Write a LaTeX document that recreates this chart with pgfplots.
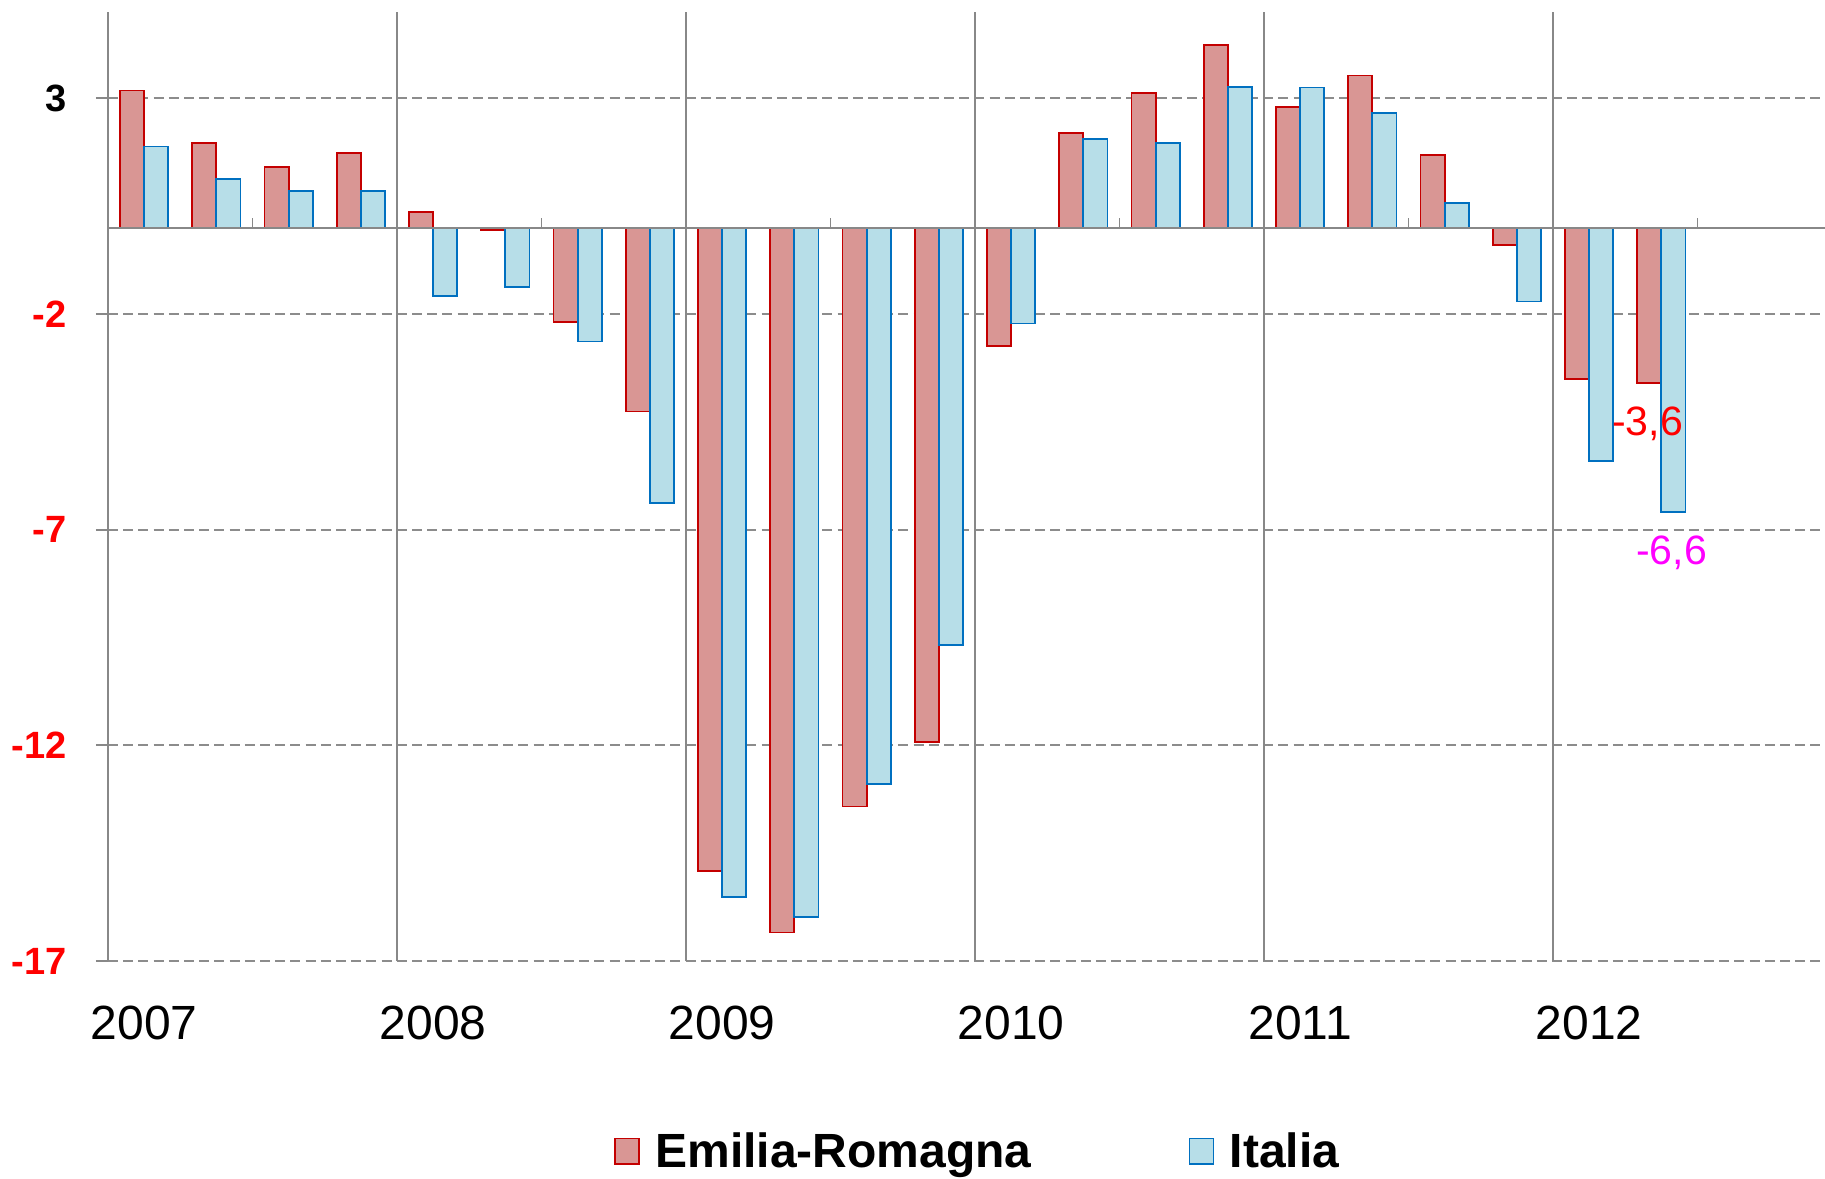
\documentclass[border=0pt]{standalone}
\usepackage{fontspec}
\setmainfont{Liberation Sans}
\usepackage{pgfplots}
\usepackage{pgfplotstable}
\pgfplotsset{compat=1.18}
\definecolor{erfill}{RGB}{217,150,148}
\definecolor{erline}{RGB}{196,0,0}
\definecolor{itfill}{RGB}{183,222,232}
\definecolor{itline}{RGB}{0,112,192}
\definecolor{gridgray}{RGB}{136,136,136}
\definecolor{dashgray}{RGB}{140,140,140}
\definecolor{labred}{RGB}{255,0,0}
\definecolor{labmag}{RGB}{255,0,255}

\pgfplotstableread{
q  er      it
0   3.18   1.88
1   1.97   1.13
2   1.41   0.85
3   1.73   0.85
4   0.36  -1.58
5  -0.05  -1.38
6  -2.18  -2.64
7  -4.26  -6.38
8  -14.91 -15.51
9  -16.34 -15.98
10 -13.42 -12.90
11 -11.92 -9.68
12 -2.74  -2.22
13  2.20   2.06
14  3.12   1.96
15  4.24   3.26
16  2.80   3.25
17  3.53   2.65
18  1.68   0.57
19 -0.41  -1.71
20 -3.51  -5.41
21 -3.60  -6.60
}\data

\begin{document}
\begin{tikzpicture}
\begin{axis}[
  at={(0,0)}, anchor=south west,
  scale only axis, width=858.5pt, height=474.5pt,
  xmin=0, xmax=23.765, ymin=-17, ymax=5,
  axis line style={draw=none},
  clip=false,
  ytick={-17,-12,-7,-2,3},
  yticklabels={-17,-12,-7,-2,\textcolor{black}{3}},
  yticklabel style={font=\bfseries\fontsize{19}{22}\selectfont, text=labred, anchor=east, inner sep=0pt, xshift=-14.5pt},
  ymajorgrids,
  grid style={dashgray, line width=0.9pt, dash pattern=on 5pt off 2.6pt},
  ytick style={draw=gridgray, line width=0.9pt},
  tick align=outside, major tick length=6pt,
  xtick={0.5,4.5,8.5,12.5,16.5,20.5},
  xticklabels={2007,2008,2009,2010,2011,2012},
  xtick style={draw=none},
  xticklabel style={font=\fontsize{24}{28}\selectfont, anchor=center, inner sep=0pt, yshift=-25pt},
  legend columns=2,
  legend style={at={(0.506,-0.2004)}, anchor=center, draw=none, fill=none, inner sep=0pt,
    font=\bfseries\fontsize{24}{28}\selectfont,
    nodes={inner sep=0pt},
    /tikz/every odd column/.append style={column sep=7.75pt},
    /tikz/every even column/.append style={column sep=78.5pt}},
]
\addlegendimage{legend image code/.code={\draw[fill=erfill, draw=erline, line width=0.9pt] (0pt,-6.3pt) rectangle (12pt,6.3pt);}}
\addlegendentry{Emilia-Romagna}
\addlegendimage{legend image code/.code={\draw[fill=itfill, draw=itline, line width=0.9pt] (0pt,-6.3pt) rectangle (12pt,6.3pt);}}
\addlegendentry{Italia}

\pgfplotsinvokeforeach{0,4,8,12,16,20}{
  \draw[gridgray, line width=1pt] (axis cs:#1,-17) -- (axis cs:#1,5);
}
\addplot[ybar, bar width=0.3333, bar shift=0pt, fill=erfill, draw=erline, line width=0.9pt, forget plot]
  table[x expr=\thisrow{q}+0.3333, y=er] {\data};
\addplot[ybar, bar width=0.3333, bar shift=0pt, fill=itfill, draw=itline, line width=0.9pt, forget plot]
  table[x expr=\thisrow{q}+0.6667, y=it] {\data};

\draw[gridgray, line width=1pt] (axis cs:0,0) -- (axis cs:23.765,0);
\pgfplotsinvokeforeach{2,6,10,14,18,22}{
  \draw[gridgray, line width=0.8pt] (axis cs:#1,0) -- ([yshift=5pt]axis cs:#1,0);
}
\node[text=labred, font=\fontsize{20.5}{24}\selectfont, inner sep=0pt] at (axis cs:21.31,-4.55) {-3,6};
\node[text=labmag, font=\fontsize{20.5}{24}\selectfont, inner sep=0pt] at (axis cs:21.64,-7.54) {-6,6};
\end{axis}
\pgfresetboundingbox
\path[use as bounding box] (-54pt,-108.5pt) rectangle (858.5pt,480.5pt);
\end{tikzpicture}
\end{document}
